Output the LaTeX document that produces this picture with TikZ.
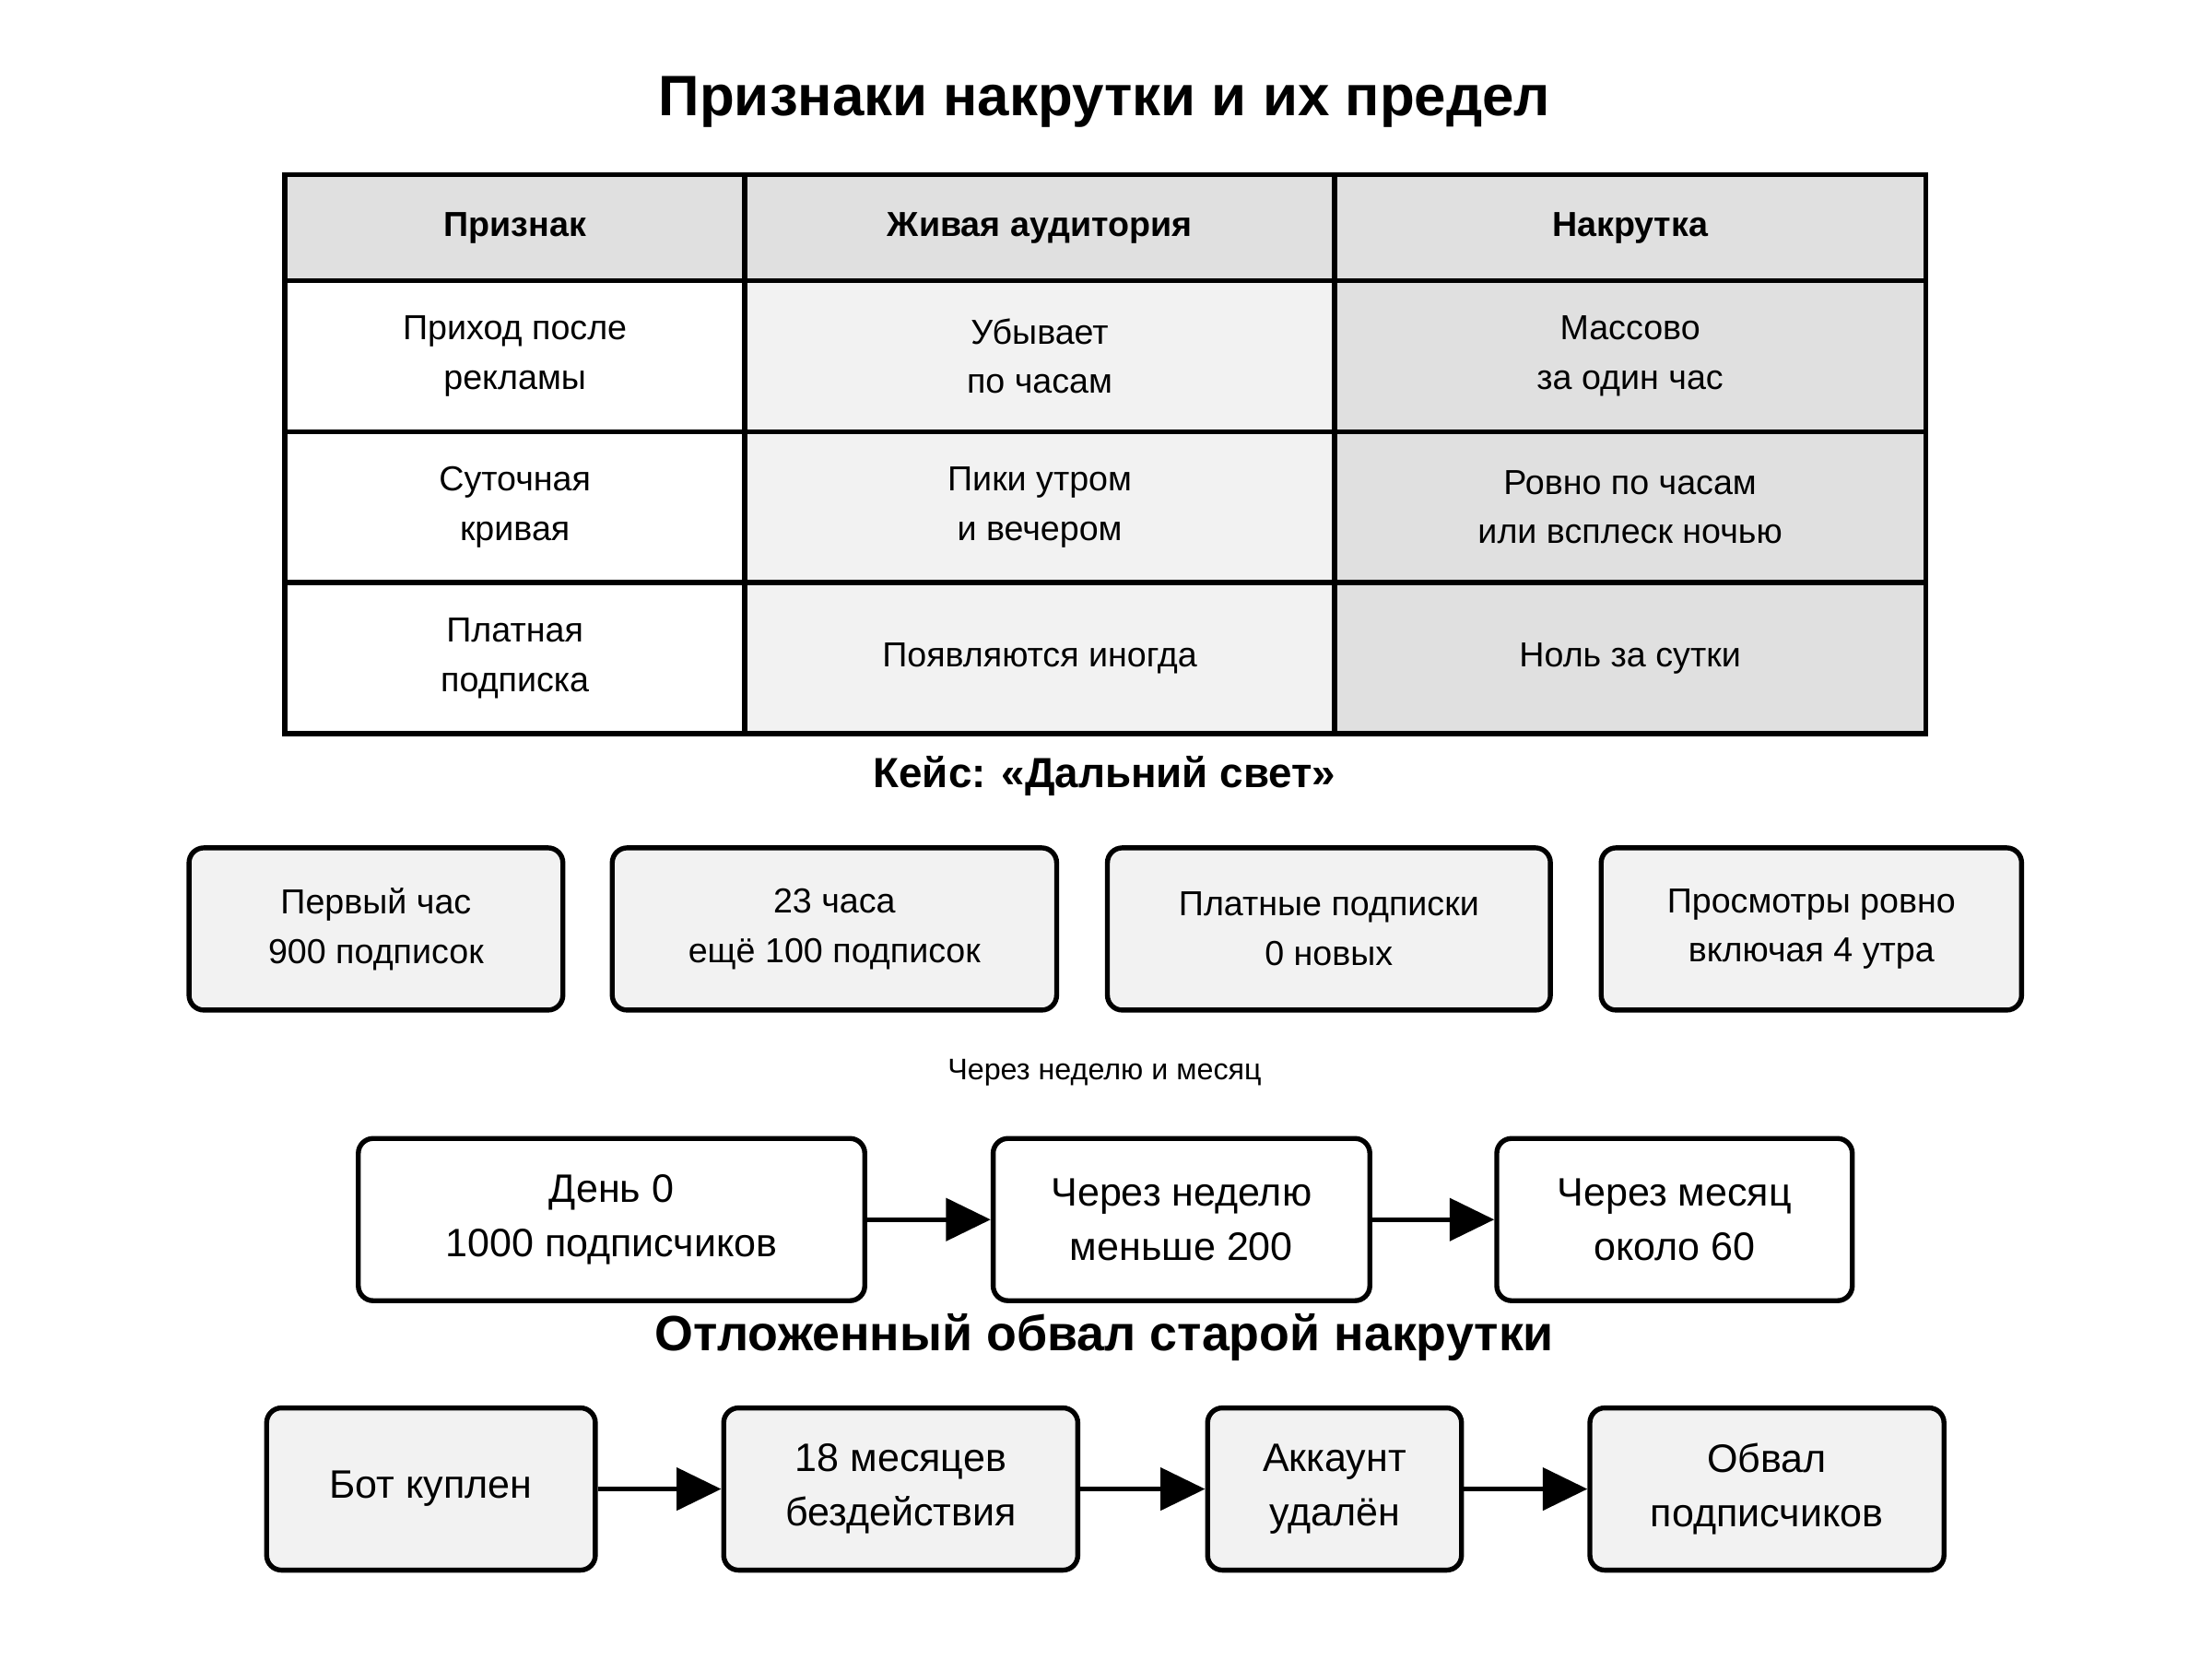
\documentclass[tikz,border=0pt]{standalone}
\usepackage{fontspec}
\setmainfont{Liberation Sans}
\usetikzlibrary{arrows.meta,positioning}
\definecolor{hdr}{RGB}{224,224,224}
\definecolor{light}{RGB}{242,242,242}
\begin{document}
\begin{tikzpicture}[x=0.02cm,y=-0.02cm,
    card/.style={draw=black, line width=2pt, rounded corners=6pt, align=center, inner sep=0pt, font=\fontsize{14}{20}\selectfont},
    stage/.style={card, font=\fontsize{16}{22}\selectfont},
    flow/.style={line width=2pt, -{Triangle[length=18pt,width=17pt]}}]
    % Background
    \fill[white] (0,0) rectangle (1568,1176);

    % Title
    \node[font=\fontsize{23}{27}\selectfont\bfseries] (title) at (783,72) {Признаки накрутки и их предел};

    % === Table ===
    \foreach \ya/\yb/\ta/\tb/\tc/\ff [count=\r] in {
        124/199/{Признак}/{Живая аудитория}/{Накрутка}/\bfseries,
        199/306/{Приход после\\рекламы}/{Убывает\\по часам}/{Массово\\за один час}/{},
        306/413/{Суточная\\кривая}/{Пики утром\\и вечером}/{Ровно по часам\\или всплеск ночью}/{},
        413/520/{Платная\\подписка}/{Появляются иногда}/{Ноль за сутки}/{}}{
        \ifnum\r=1 \def\ca{hdr}\def\cb{hdr}\def\cc{hdr}\else\def\ca{white}\def\cb{light}\def\cc{hdr}\fi
        \fill[\ca] (202,\ya) rectangle (528,\yb);
        \fill[\cb] (528,\ya) rectangle (946,\yb);
        \fill[\cc] (946,\ya) rectangle (1365,\yb);
        \draw[line width=2pt] (202,\ya) rectangle (528,\yb) (528,\ya) rectangle (946,\yb) (946,\ya) rectangle (1365,\yb);
        \node[align=center, font=\fontsize{14}{20}\selectfont\ff] (r\r a) at ({(202+528)/2},{(\ya+\yb)/2}) {\ta};
        \node[align=center, font=\fontsize{14}{20}\selectfont\ff] (r\r b) at ({(528+946)/2},{(\ya+\yb)/2}) {\tb};
        \node[align=center, font=\fontsize{14}{20}\selectfont\ff] (r\r c) at ({(946+1365)/2},{(\ya+\yb)/2}) {\tc};
    }

    % === Case ===
    \node[font=\fontsize{17}{21}\selectfont\bfseries] (case) at (783,550) {Кейс: «Дальний свет»};
    \node[card, fill=light, minimum width=265*0.02cm, minimum height=115*0.02cm] (first) at (266.5,658.5) {Первый час\\900 подписок};
    \node[card, fill=light, minimum width=315*0.02cm, minimum height=115*0.02cm] (later) at (591.5,658.5) {23 часа\\ещё 100 подписок};
    \node[card, fill=light, minimum width=314*0.02cm, minimum height=115*0.02cm] (paid) at (942,658.5) {Платные подписки\\0 новых};
    \node[card, fill=light, minimum width=298*0.02cm, minimum height=115*0.02cm] (views) at (1284,658.5) {Просмотры ровно\\включая 4 утра};

    \node[font=\fontsize{12}{15}\selectfont] (weeklbl) at (783,760) {Через неделю и месяц};
    \node[stage, fill=white, minimum width=359*0.02cm, minimum height=115*0.02cm] (day0) at (433.5,864.5) {День 0\\1000 подписчиков};
    \node[stage, fill=white, minimum width=267*0.02cm, minimum height=115*0.02cm] (week) at (837.5,864.5) {Через неделю\\меньше 200};
    \node[stage, fill=white, minimum width=252*0.02cm, minimum height=115*0.02cm] (month) at (1187,864.5) {Через месяц\\около 60};
    \draw[flow] (day0) -- (week);
    \draw[flow] (week) -- (month);

    % === Delayed collapse ===
    \node[font=\fontsize{20}{24}\selectfont\bfseries] (old) at (783,948) {Отложенный обвал старой накрутки};
    \node[stage, fill=light, minimum width=233*0.02cm, minimum height=115*0.02cm] (bot) at (305.5,1055.5) {Бот куплен};
    \node[stage, fill=light, minimum width=251*0.02cm, minimum height=115*0.02cm] (idle) at (638.5,1055.5) {18 месяцев\\бездействия};
    \node[stage, fill=light, minimum width=180*0.02cm, minimum height=115*0.02cm] (deleted) at (946,1055.5) {Аккаунт\\удалён};
    \node[stage, fill=light, minimum width=251*0.02cm, minimum height=115*0.02cm] (drop) at (1252.5,1055.5) {Обвал\\подписчиков};
    \draw[flow] (bot) -- (idle);
    \draw[flow] (idle) -- (deleted);
    \draw[flow] (deleted) -- (drop);
\end{tikzpicture}
\end{document}
